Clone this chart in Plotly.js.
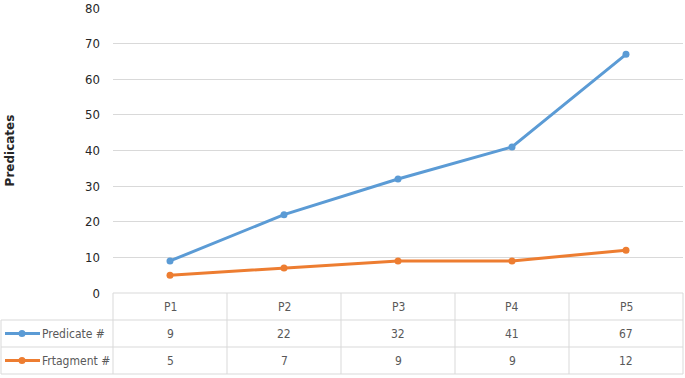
<!DOCTYPE html>
<html><head><meta charset="utf-8">
<script src="https://cdn.plot.ly/plotly-3.0.1.min.js"></script>
<style>html,body{margin:0;padding:0;background:#fff}#c{width:685px;height:378px}</style>
</head><body><div id="c"></div>
<script>
const categories = ["P1","P2","P3","P4","P5"];
const seriesNames = ["Predicate #","Frtagment #"];
const predicate = [9,22,32,41,67];
const fragment = [5,7,9,9,12];
const yTicks = [0,10,20,30,40,50,60,70,80];
const yTitle = "Predicates";

const colors = ["#5B9BD5","#ED7D31"];
const series = [predicate, fragment];
const W = 685, H = 378, mL = 113, mR = 2, mT = 8, mB = 85;
const pw = W - mL - mR, ph = H - mT - mB;
const px = x => (x - mL) / pw;          // pixel -> paper x
const py = y => (H - mB - y) / ph;      // pixel -> paper y
const rowLines = [293, 320, 347, 374];
const gridC = "#d9d9d9";
const txtC = "#595959";
const font = "DejaVu Sans Condensed, Liberation Sans Narrow, sans-serif";

const traces = series.map((s, i) => ({
  x: categories, y: s, type: "scatter", mode: "lines+markers", name: seriesNames[i],
  line: {color: colors[i], width: 3}, marker: {color: colors[i], size: 7, symbol: "circle"},
  cliponaxis: false
}));

const shapes = [];
const annotations = [];
// horizontal table lines
shapes.push({type:"line", xref:"paper", yref:"paper", x0:0, x1:1, y0:py(rowLines[0]), y1:py(rowLines[0]), line:{color:gridC, width:1}});
for (let k = 1; k < rowLines.length; k++) {
  shapes.push({type:"line", xref:"paper", yref:"paper", x0:px(1), x1:1, y0:py(rowLines[k]), y1:py(rowLines[k]), line:{color:gridC, width:1}});
}
// vertical table lines
shapes.push({type:"line", xref:"paper", yref:"paper", x0:px(1), x1:px(1), y0:py(rowLines[1]), y1:py(rowLines[3]), line:{color:gridC, width:1}});
for (let c = 0; c <= categories.length; c++) {
  const xp = c / categories.length;
  shapes.push({type:"line", xref:"paper", yref:"paper", x0:xp, x1:xp, y0:py(rowLines[0]), y1:py(rowLines[3]), line:{color:gridC, width:1}});
}
// header labels
categories.forEach(c => annotations.push({x:c, xref:"x", yref:"paper", y:py((rowLines[0]+rowLines[1])/2), yanchor:"middle", text:c, showarrow:false, font:{family:font, size:12, color:txtC}}));
// data rows
series.forEach((s, i) => {
  const yc = py((rowLines[i+1]+rowLines[i+2])/2);
  s.forEach((v, j) => annotations.push({x:categories[j], xref:"x", yref:"paper", y:yc, yanchor:"middle", text:String(v), showarrow:false, font:{family:font, size:12, color:txtC}}));
  shapes.push({type:"line", xref:"paper", yref:"paper", x0:px(5), x1:px(40), y0:yc, y1:yc, line:{color:colors[i], width:3}});
  shapes.push({type:"circle", xref:"paper", yref:"paper", xsizemode:"pixel", ysizemode:"pixel", xanchor:px(22), yanchor:yc, x0:-3.5, x1:3.5, y0:-3.5, y1:3.5, fillcolor:colors[i], line:{color:colors[i], width:0}});
  annotations.push({xref:"paper", yref:"paper", x:px(40), y:yc, xanchor:"left", yanchor:"middle", text:seriesNames[i], showarrow:false, font:{family:font, size:12, color:txtC}});
});

const layout = {
  width: W, height: H, margin: {l:mL, r:mR, t:mT, b:mB},
  paper_bgcolor:"#fff", plot_bgcolor:"#fff", showlegend:false,
  xaxis: {type:"category", range:[-0.5, 4.5], showticklabels:false, showgrid:false, zeroline:false, showline:false, ticks:""},
  yaxis: {range:[0,80], tickvals:yTicks, showgrid:true, gridcolor:gridC, gridwidth:1, zeroline:false, showline:false, ticks:"",
          ticklabelstandoff: 12,
          tickfont:{family:font, size:13, color:"#262626"},
          title:{text:yTitle, standoff: 67, font:{family:"DejaVu Sans, sans-serif", size:12, color:"#262626", weight:"bold"}}},
  shapes, annotations
};
Plotly.newPlot("c", traces, layout, {displayModeBar:false, staticPlot:true});
</script></body></html>
